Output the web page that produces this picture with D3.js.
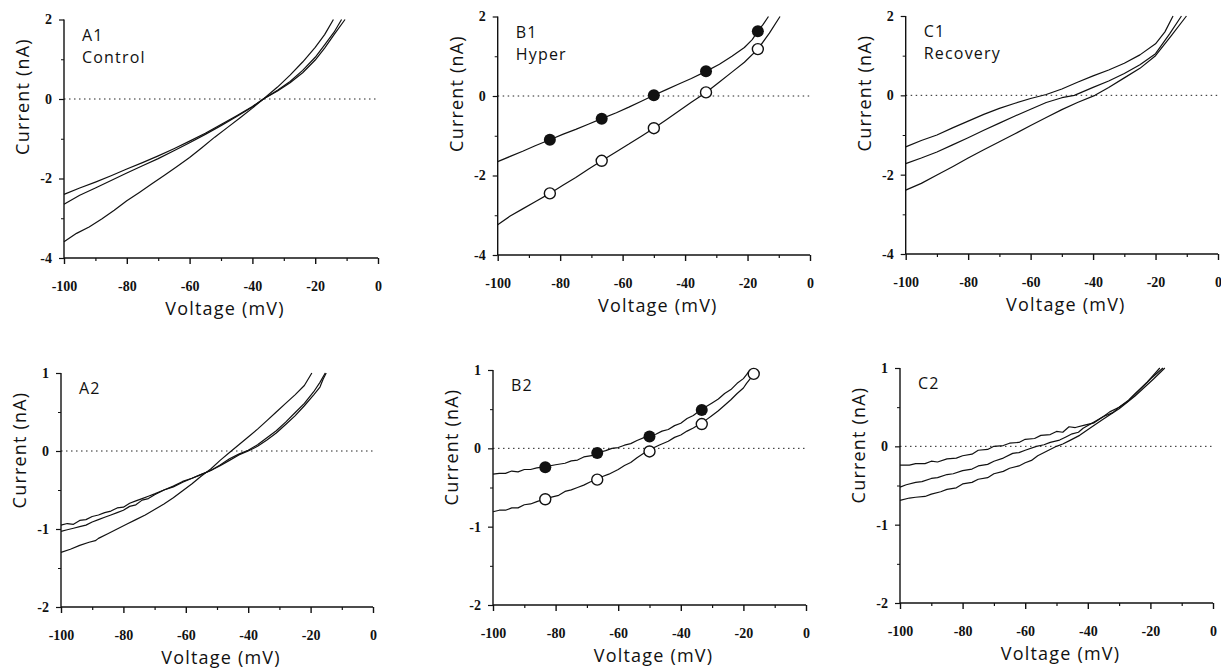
<!DOCTYPE html>
<html>
<head>
<meta charset="utf-8">
<script src="https://cdn.jsdelivr.net/npm/d3@7"></script>
<style>
  html, body { margin: 0; padding: 0; background: #fff; }
  svg { display: block; }
  .tick text { font-family: "Liberation Serif", serif; font-weight: bold; font-size: 14px; fill: #111; }
  .title { font-family: "Open Sans", sans-serif; font-size: 18px; fill: #111; letter-spacing: 1.2px; }
  .plabel { font-family: "Open Sans", sans-serif; font-size: 16px; fill: #111; letter-spacing: 1.2px; }
</style>
</head>
<body>
<svg id="chart" width="1221" height="668"></svg>
<script>
// ---------------- DATA ----------------
const voltageTicks = [-100, -80, -60, -40, -20, 0];
const voltageMinorTicks = [-90, -70, -50, -30, -10];
const currentTicksTop = [2, 0, -2, -4];
const currentMinorTop = [1, -1, -3];
const currentTicksBottom = [1, 0, -1, -2];
const currentMinorBottom = [0.5, -0.5, -1.5];

// A1 Control (V mV, I nA)
const a1Upper = [[-100,-2.40],[-95,-2.24],[-90,-2.09],[-85,-1.93],[-80,-1.76],[-75,-1.60],[-70,-1.43],[-65,-1.25],[-60,-1.06],[-55,-0.86],[-50,-0.64],[-45,-0.42],[-40,-0.19],[-36.5,0],[-32,0.22],[-28,0.44],[-24,0.72],[-20,1.05],[-17,1.36],[-14,1.68],[-11.6,2.0]];
const a1Middle = [[-100,-2.65],[-95,-2.42],[-90,-2.24],[-85,-2.05],[-80,-1.86],[-75,-1.68],[-70,-1.50],[-65,-1.30],[-60,-1.10],[-55,-0.89],[-50,-0.67],[-45,-0.44],[-40,-0.20],[-36.5,0],[-32,0.20],[-28,0.41],[-24,0.66],[-20,0.98],[-17,1.28],[-14,1.62],[-10.5,2.0]];
const a1Lower = [[-100,-3.59],[-96,-3.38],[-92,-3.22],[-88,-3.02],[-84,-2.80],[-80,-2.56],[-76,-2.35],[-72,-2.13],[-68,-1.92],[-64,-1.70],[-60,-1.47],[-56,-1.22],[-52,-0.96],[-48,-0.72],[-44,-0.48],[-40,-0.23],[-36.5,0],[-32,0.30],[-28,0.60],[-24,0.93],[-20,1.30],[-17,1.62],[-14.2,2.0]];

// B1 Hyper
const b1FilledTrace = [[-100,-1.65],[-96,-1.52],[-92,-1.39],[-88,-1.25],[-83.3,-1.10],[-79,-0.96],[-75,-0.84],[-71,-0.71],[-66.7,-0.57],[-62,-0.42],[-58,-0.28],[-54,-0.13],[-50,0.02],[-46,0.16],[-42,0.30],[-38,0.44],[-33.3,0.62],[-29,0.80],[-25,1.00],[-21,1.22],[-18.5,1.42],[-16.7,1.63],[-15,1.80],[-13.3,2.0]];
const b1OpenTrace = [[-100,-3.24],[-96,-3.02],[-92,-2.84],[-88,-2.66],[-83.3,-2.45],[-79,-2.24],[-75,-2.05],[-71,-1.84],[-66.7,-1.63],[-62,-1.40],[-58,-1.21],[-54,-1.01],[-50,-0.81],[-46,-0.60],[-42,-0.38],[-38,-0.16],[-33.3,0.09],[-29,0.35],[-25,0.60],[-21,0.85],[-16.7,1.18],[-13,1.58],[-9.6,2.0]];
const b1MarkerV = [-83.3, -66.7, -50, -33.3, -16.7];
const b1FilledI = [-1.10, -0.57, 0.02, 0.62, 1.63];
const b1OpenI = [-2.45, -1.63, -0.81, 0.09, 1.18];

// C1 Recovery
const c1Upper = [[-100,-1.30],[-95,-1.14],[-90,-1.00],[-85,-0.82],[-80,-0.65],[-75,-0.48],[-70,-0.33],[-65,-0.20],[-60,-0.08],[-55,0.02],[-50,0.16],[-45,0.33],[-40,0.49],[-35,0.64],[-30,0.81],[-25,1.02],[-20,1.30],[-17,1.60],[-14.4,2.0]];
const c1Middle = [[-100,-1.72],[-95,-1.58],[-90,-1.43],[-85,-1.25],[-80,-1.07],[-75,-0.88],[-70,-0.70],[-65,-0.52],[-60,-0.35],[-55,-0.18],[-50,-0.06],[-46,0],[-40,0.20],[-35,0.36],[-30,0.55],[-25,0.77],[-20,1.05],[-15.5,1.55],[-11.7,2.0]];
const c1Lower = [[-100,-2.39],[-95,-2.22],[-90,-2.01],[-85,-1.80],[-80,-1.58],[-75,-1.37],[-70,-1.17],[-65,-0.97],[-60,-0.76],[-55,-0.56],[-50,-0.36],[-45,-0.18],[-39.4,0],[-35,0.20],[-30,0.44],[-25,0.68],[-20,1.00],[-15,1.50],[-10.1,2.0]];

// A2
const a2Upper = [[-100,-0.95],[-98,-0.93],[-96,-0.94],[-94,-0.89],[-92,-0.88],[-90,-0.84],[-88,-0.82],[-86,-0.79],[-84,-0.77],[-82,-0.73],[-80,-0.72],[-78,-0.67],[-76,-0.64],[-74,-0.61],[-72,-0.58],[-70,-0.55],[-67,-0.50],[-64,-0.46],[-61,-0.40],[-58,-0.35],[-55,-0.30],[-52,-0.25],[-49,-0.18],[-46,-0.10],[-43,-0.04],[-40,0.01],[-37,0.08],[-34,0.17],[-31,0.26],[-28,0.37],[-25,0.49],[-22,0.61],[-19,0.76],[-17,0.88],[-15.3,1.0]];
const a2Middle = [[-100,-1.03],[-98,-1.01],[-96,-0.99],[-94,-0.97],[-92,-0.95],[-90,-0.91],[-88,-0.88],[-86,-0.85],[-84,-0.82],[-82,-0.79],[-80,-0.76],[-78,-0.71],[-76,-0.69],[-74,-0.63],[-72,-0.61],[-70,-0.56],[-67,-0.50],[-64,-0.45],[-61,-0.39],[-58,-0.35],[-55,-0.30],[-52,-0.25],[-49,-0.19],[-46,-0.12],[-43,-0.05],[-40,0.00],[-37,0.06],[-34,0.14],[-31,0.23],[-28,0.34],[-25,0.45],[-22,0.58],[-19,0.72],[-17,0.82],[-16,0.92],[-15,1.0]];
const a2Lower = [[-100,-1.30],[-97,-1.26],[-94,-1.21],[-91,-1.17],[-89,-1.15],[-88,-1.12],[-85,-1.06],[-82,-1.00],[-79,-0.94],[-76,-0.88],[-73,-0.82],[-70,-0.75],[-67,-0.68],[-64,-0.60],[-61,-0.51],[-58,-0.42],[-55,-0.32],[-52,-0.23],[-49,-0.12],[-46,-0.02],[-43,0.08],[-40,0.18],[-37,0.28],[-34,0.39],[-31,0.50],[-28,0.61],[-25,0.72],[-22,0.84],[-19.6,1.0]];

// B2
const b2FilledTrace = [[-100,-0.33],[-98,-0.32],[-96,-0.32],[-94,-0.29],[-92,-0.30],[-90,-0.27],[-88,-0.27],[-86,-0.25],[-84,-0.24],[-80,-0.21],[-77,-0.19],[-75,-0.16],[-73,-0.15],[-71,-0.11],[-68,-0.09],[-66.7,-0.06],[-64,-0.03],[-62,0.00],[-60,0.01],[-58,0.04],[-56,0.06],[-54,0.10],[-51,0.15],[-48,0.18],[-46,0.22],[-44,0.24],[-42,0.29],[-40,0.32],[-38,0.38],[-36,0.42],[-33.7,0.49],[-30,0.58],[-28,0.63],[-26,0.70],[-24,0.75],[-22,0.83],[-20,0.89],[-19,0.94],[-17.9,1.0]];
const b2OpenTrace = [[-100,-0.81],[-98,-0.79],[-96,-0.79],[-94,-0.76],[-92,-0.76],[-90,-0.72],[-88,-0.71],[-86,-0.68],[-83.8,-0.65],[-81,-0.62],[-79,-0.60],[-77,-0.55],[-75,-0.53],[-73,-0.50],[-71,-0.47],[-69,-0.43],[-67,-0.40],[-65,-0.36],[-63,-0.33],[-60,-0.27],[-58,-0.22],[-56,-0.18],[-54,-0.12],[-51,-0.04],[-49,0.00],[-47,0.04],[-44,0.09],[-42,0.14],[-40,0.17],[-38,0.22],[-36,0.26],[-33.9,0.31],[-32,0.36],[-30,0.42],[-28,0.48],[-26,0.55],[-24,0.62],[-22,0.70],[-20,0.77],[-19,0.83],[-16.6,0.95],[-15.5,1.0]];
const b2FilledV = [-83.3, -66.7, -50, -33.3];
const b2FilledI = [-0.24, -0.06, 0.15, 0.49];
const b2OpenV = [-83.3, -66.7, -50, -33.3, -16.7];
const b2OpenI = [-0.65, -0.40, -0.04, 0.31, 0.95];

// C2
const c2Upper = [[-100,-0.24],[-97,-0.24],[-95,-0.22],[-92,-0.22],[-90,-0.19],[-88,-0.20],[-85,-0.16],[-82,-0.15],[-80,-0.12],[-77,-0.10],[-75,-0.05],[-72,-0.04],[-70,0.00],[-67,0.01],[-65,0.04],[-62,0.05],[-60,0.09],[-57,0.10],[-55,0.14],[-52,0.15],[-50,0.19],[-48,0.18],[-46,0.25],[-44,0.24],[-41,0.27],[-38,0.30],[-35,0.38],[-33,0.44],[-30,0.50],[-27,0.59],[-25,0.67],[-21,0.82],[-17,1.0]];
const c2Middle = [[-100,-0.52],[-98,-0.49],[-95,-0.46],[-93,-0.45],[-90,-0.41],[-88,-0.40],[-85,-0.36],[-83,-0.35],[-80,-0.31],[-77,-0.29],[-75,-0.25],[-72,-0.23],[-70,-0.19],[-67,-0.15],[-64,-0.09],[-62,-0.08],[-60,-0.05],[-56.4,0],[-54,0.02],[-52,0.05],[-49,0.08],[-47,0.12],[-45,0.16],[-43,0.18],[-41.5,0.23],[-38,0.31],[-35,0.38],[-32,0.43],[-30,0.50],[-27,0.58],[-25,0.66],[-20,0.86],[-16,1.0]];
const c2Lower = [[-100,-0.69],[-97,-0.66],[-95,-0.65],[-92,-0.64],[-90,-0.61],[-87,-0.58],[-85,-0.55],[-82,-0.53],[-80,-0.48],[-77,-0.46],[-75,-0.42],[-72,-0.40],[-70,-0.35],[-67,-0.32],[-65,-0.28],[-62,-0.25],[-60,-0.21],[-58,-0.18],[-56,-0.12],[-53,-0.06],[-50,0],[-48,0.03],[-46,0.07],[-42.6,0.14],[-39,0.24],[-35,0.35],[-30,0.48],[-25,0.64],[-19,0.86],[-15.4,1.0]];

const panelLetters = ["A1", "B1", "C1", "A2", "B2", "C2"];
const panelNames = ["Control", "Hyper", "Recovery", "", "", ""];
const xTitle = "Voltage (mV)";
const yTitle = "Current (nA)";

// ---------------- LAYOUT ----------------
const panels = [
  { letter: panelLetters[0], name: panelNames[0], box: [64, 378, 19.5, 258], yDomain: [-4, 2], yTicks: currentTicksTop, yMinor: currentMinorTop,
    traces: [a1Upper, a1Middle, a1Lower], filled: [], open: [] },
  { letter: panelLetters[1], name: panelNames[1], box: [497.7, 810, 16.5, 255], yDomain: [-4, 2], yTicks: currentTicksTop, yMinor: currentMinorTop,
    traces: [b1FilledTrace, b1OpenTrace], filled: b1MarkerV.map((v, i) => [v, b1FilledI[i]]), open: b1MarkerV.map((v, i) => [v, b1OpenI[i]]) },
  { letter: panelLetters[2], name: panelNames[2], box: [905.7, 1218, 16, 254], yDomain: [-4, 2], yTicks: currentTicksTop, yMinor: currentMinorTop,
    traces: [c1Upper, c1Middle, c1Lower], filled: [], open: [] },
  { letter: panelLetters[3], name: panelNames[3], box: [61, 373, 373, 607], yDomain: [-2, 1], yTicks: currentTicksBottom, yMinor: currentMinorBottom,
    traces: [a2Upper, a2Middle, a2Lower], filled: [], open: [] },
  { letter: panelLetters[4], name: panelNames[4], box: [493, 806, 370, 605], yDomain: [-2, 1], yTicks: currentTicksBottom, yMinor: currentMinorBottom,
    traces: [b2FilledTrace, b2OpenTrace], filled: b2FilledV.map((v, i) => [v, b2FilledI[i]]), open: b2OpenV.map((v, i) => [v, b2OpenI[i]]) },
  { letter: panelLetters[5], name: panelNames[5], box: [900, 1213, 368, 603], yDomain: [-2, 1], yTicks: currentTicksBottom, yMinor: currentMinorBottom,
    traces: [c2Upper, c2Middle, c2Lower], filled: [], open: [] }
];

const svg = d3.select("#chart");

panels.forEach(p => {
  const [xl, xr, yt, yb] = p.box;
  const x = d3.scaleLinear().domain([-100, 0]).range([xl, xr]);
  const y = d3.scaleLinear().domain(p.yDomain).range([yb, yt]);
  const g = svg.append("g");

  // zero reference (dotted)
  g.append("line")
    .attr("x1", x(-100)).attr("x2", x(0)).attr("y1", y(0)).attr("y2", y(0))
    .attr("stroke", "#222").attr("stroke-width", 1).attr("stroke-dasharray", "1.5,3.5");

  // bottom axis
  const xAxis = g.append("g").attr("transform", `translate(0,${yb})`)
    .call(d3.axisBottom(x).tickValues(voltageTicks).tickSize(6).tickPadding(17).tickFormat(d => String(d)));
  xAxis.select(".domain").attr("d", `M${xl},0H${xr}`).attr("stroke", "#111").attr("stroke-width", 1.4);
  xAxis.selectAll(".tick line").attr("stroke", "#111").attr("stroke-width", 1.4);
  g.append("g").attr("transform", `translate(0,${yb})`)
    .call(d3.axisBottom(x).tickValues(voltageMinorTicks).tickSize(3).tickFormat(""))
    .call(s => s.select(".domain").remove())
    .selectAll(".tick line").attr("stroke", "#111").attr("stroke-width", 1.2);

  // left axis
  const yAxis = g.append("g").attr("transform", `translate(${xl},0)`)
    .call(d3.axisLeft(y).tickValues(p.yTicks).tickSize(5).tickPadding(7).tickFormat(d => String(d)));
  yAxis.select(".domain").attr("d", `M0,${yt}V${yb}`).attr("stroke", "#111").attr("stroke-width", 1.4);
  yAxis.selectAll(".tick line").attr("stroke", "#111").attr("stroke-width", 1.2);
  g.append("g").attr("transform", `translate(${xl},0)`)
    .call(d3.axisLeft(y).tickValues(p.yMinor).tickSize(3).tickFormat(""))
    .call(s => s.select(".domain").remove())
    .selectAll(".tick line").attr("stroke", "#111").attr("stroke-width", 1);

  // traces
  const line = d3.line().x(d => x(d[0])).y(d => y(d[1])).curve(d3.curveLinear);
  p.traces.forEach(t => {
    g.append("path").datum(t).attr("d", line)
      .attr("fill", "none").attr("stroke", "#111").attr("stroke-width", 1.2).attr("stroke-linejoin", "round");
  });

  // markers
  g.selectAll(".filled").data(p.filled).enter().append("circle")
    .attr("cx", d => x(d[0])).attr("cy", d => y(d[1])).attr("r", 6)
    .attr("fill", "#111");
  g.selectAll(".open").data(p.open).enter().append("circle")
    .attr("cx", d => x(d[0])).attr("cy", d => y(d[1])).attr("r", 5.5)
    .attr("fill", "#fff").attr("stroke", "#111").attr("stroke-width", 1.4);

  // titles
  g.append("text").attr("class", "title")
    .attr("x", (xl + xr) / 2 + 4).attr("y", yb + 57).attr("text-anchor", "middle").text(xTitle);
  g.append("text").attr("class", "title")
    .attr("transform", `translate(${xl - 35},${yt + 77}) rotate(-90)`)
    .attr("text-anchor", "middle").text(yTitle);

  // panel labels
  g.append("text").attr("class", "plabel").attr("x", xl + 18).attr("y", yt + 21).text(p.letter);
  if (p.name) g.append("text").attr("class", "plabel").attr("x", xl + 18).attr("y", yt + 43).text(p.name);
});
</script>
</body>
</html>
